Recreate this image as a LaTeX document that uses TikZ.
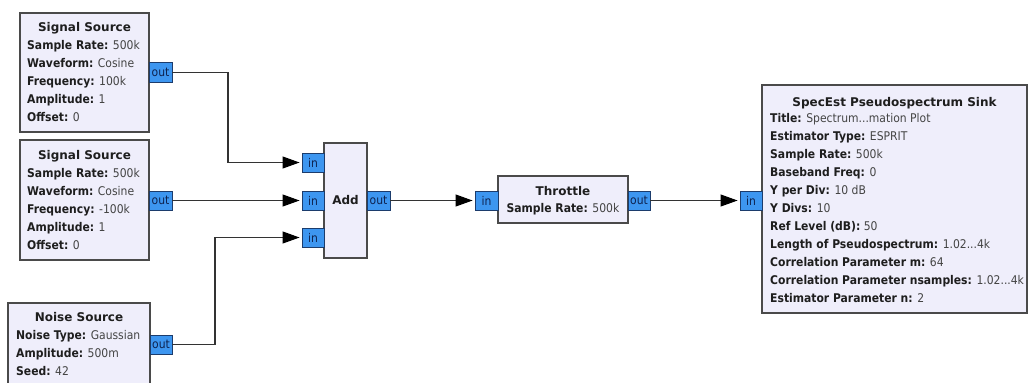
\documentclass[tikz,border=0pt]{standalone}
\usepackage{fontspec}
\setmainfont{DejaVu Sans Condensed}
\newfontfamily\ttlfont{DejaVu Sans}
\usetikzlibrary{arrows.meta}
\definecolor{blockfill}{HTML}{EFEEFB}
\definecolor{blockline}{HTML}{4A4A4A}
\definecolor{portfill}{HTML}{3D96F0}
\definecolor{portline}{HTML}{1C3C6C}
\definecolor{porttext}{HTML}{0E2350}
\definecolor{lblcol}{HTML}{1E1E1E}
\definecolor{valcol}{HTML}{444444}
\definecolor{wirecol}{HTML}{333333}
\tikzset{
  block/.style={draw=blockline, fill=blockfill, line width=1.3pt, inner sep=0pt},
  port/.style={draw=portline, fill=portfill, line width=0.9pt, inner sep=0pt,
    text=porttext, font=\fontsize{12}{14}\selectfont},
  ttl/.style={anchor=base, inner sep=0pt, text=lblcol, font=\ttlfont\fontsize{12}{14}\selectfont\bfseries},
  attr/.style={anchor=base west, inner sep=0pt, font=\fontsize{12}{14}\selectfont},
  wire/.style={draw=wirecol, line width=1.1pt},
  arr/.style={wire, -{Triangle[length=17pt,width=12pt,color=black]}, shorten >=2pt},
}
\newcommand\kv[2]{{\bfseries\color{lblcol}#1:} {\color{valcol}#2}}
\newcommand\tdts{...}
\begin{document}
\begin{tikzpicture}[x=1pt,y=-1pt]
\useasboundingbox[fill=white] (0,0) rectangle (1029,383);
\clip (0,0) rectangle (1029,383);
% blocks
\node[block, minimum width=129pt, minimum height=119pt] (s1) at (84.5,72.5) {};
\node[block, minimum width=129pt, minimum height=120pt] (s2) at (84.5,200) {};
\node[block, minimum width=142pt, minimum height=90pt] (ns) at (79,348) {};
\node[block, minimum width=43pt, minimum height=115pt] (add) at (345.5,200.5) {};
\node[block, minimum width=130pt, minimum height=47pt] (thr) at (563,199.5) {};
\node[block, minimum width=265pt, minimum height=228pt] (snk) at (894.5,199) {};
% ports
\node[port, minimum width=23pt, minimum height=20pt] (s1o) at (160.5,72.5) {out};
\node[port, minimum width=23pt, minimum height=19pt] (s2o) at (160.5,200.5) {out};
\node[port, minimum width=22pt, minimum height=19pt] (nso) at (161,344.5) {out};
\node[port, minimum width=22pt, minimum height=19pt] (ai1) at (313,162.5) {in};
\node[port, minimum width=22pt, minimum height=19pt] (ai2) at (313,200.5) {in};
\node[port, minimum width=22pt, minimum height=19pt] (ai3) at (313,237.5) {in};
\node[port, minimum width=23pt, minimum height=19pt] (ao) at (378.5,200.5) {out};
\node[port, minimum width=23pt, minimum height=19pt] (ti) at (486.5,200.5) {in};
\node[port, minimum width=22pt, minimum height=19pt] (to) at (639,200.5) {out};
\node[port, minimum width=22pt, minimum height=19pt] (si) at (751,200.5) {in};
% texts
\node[ttl] (s1t) at (84.5,31) {Signal Source};
\foreach \k/\v [count=\i] in {Sample Rate/500k, Waveform/Cosine, Frequency/100k, Amplitude/1, Offset/0}
  \node[attr] (s1a\i) at (27,{31+18*\i}) {\kv{\k}{\v}};
\node[ttl] (s2t) at (84.5,159) {Signal Source};
\foreach \k/\v [count=\i] in {Sample Rate/500k, Waveform/Cosine, Frequency/-100k, Amplitude/1, Offset/0}
  \node[attr] (s2a\i) at (27,{159+18*\i}) {\kv{\k}{\v}};
\node[ttl] (nst) at (79,321) {Noise Source};
\foreach \k/\v [count=\i] in {Noise Type/Gaussian, Amplitude/500m, Seed/42}
  \node[attr] (nsa\i) at (16,{321+18*\i}) {\kv{\k}{\v}};
\node[ttl] (addt) at (345.5,204) {Add};
\node[ttl] (thrt) at (563,195) {Throttle};
\node[attr, anchor=base] (thra) at (563,212) {\kv{Sample Rate}{500k}};
\node[ttl] (snkt) at (894.5,106) {SpecEst Pseudospectrum Sink};
\foreach \k/\v [count=\i] in {Title/{Spectrum\tdts mation Plot}, Estimator Type/ESPRIT, Sample Rate/500k,
  Baseband Freq/0, Y per Div/10 dB, Y Divs/10, Ref Level (dB)/50, Length of Pseudospectrum/{1.02\tdts 4k},
  Correlation Parameter m/64, Correlation Parameter nsamples/{1.02\tdts 4k}, Estimator Parameter n/2}
  \node[attr] (snka\i) at (770,{104+18*\i}) {\kv{\k}{\v}};
% connectors
\draw[arr] (s1o.east) -| (228,162.5) -- (ai1.west);
\draw[arr] (s2o.east) -- (ai2.west);
\draw[arr] (nso.east) -| (215,237.5) -- (ai3.west);
\draw[arr] (ao.east) -- (ti.west);
\draw[arr] (to.east) -- (si.west);
\end{tikzpicture}
\end{document}
